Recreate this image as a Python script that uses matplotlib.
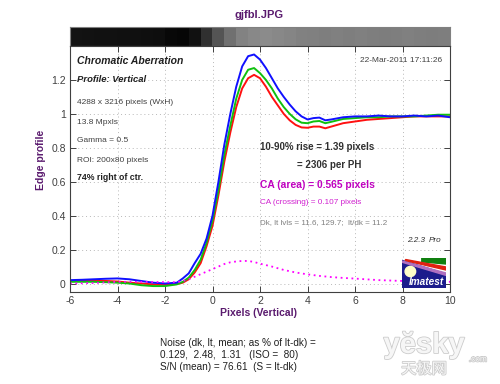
import numpy as np
import matplotlib
matplotlib.use("Agg")
import matplotlib.pyplot as plt
from matplotlib.patches import Rectangle, Polygon, Ellipse
import matplotlib.patheffects as pe

# ---------------- data ----------------
x_px = [-6, -5.5, -5, -4.5, -4, -3.5, -3, -2.5, -2, -1.5, -1.25, -1, -0.75, -0.5, -0.25,
        0, 0.25, 0.5, 0.75, 1, 1.25, 1.5, 1.75, 2, 2.25, 2.5, 2.75, 3, 3.25, 3.5, 3.75,
        4, 4.25, 4.5, 4.75, 5, 5.5, 6, 6.5, 7, 7.5, 8, 8.5, 9, 9.5, 10]

blue = [0.02, 0.022, 0.025, 0.028, 0.03, 0.025, 0.015, 0.005, 0.0, 0.005, 0.03, 0.06, 0.12, 0.175, 0.265,
        0.40, 0.60, 0.82, 1.00, 1.16, 1.28, 1.34, 1.35, 1.32, 1.27, 1.21, 1.15, 1.10, 1.055, 1.015, 0.985,
        0.967, 0.975, 0.978, 0.962, 0.967, 0.98, 0.985, 0.985, 0.99, 0.985, 0.985, 0.99, 0.985, 0.99, 0.98]

green = [0.01, 0.01, 0.01, 0.008, 0.005, 0.0, -0.01, -0.015, -0.015, -0.005, 0.01, 0.035, 0.08, 0.14, 0.24,
         0.37, 0.55, 0.76, 0.93, 1.09, 1.20, 1.26, 1.27, 1.24, 1.20, 1.15, 1.09, 1.04, 1.00, 0.968, 0.948,
         0.945, 0.955, 0.958, 0.945, 0.953, 0.97, 0.975, 0.98, 0.98, 0.985, 0.985, 0.985, 0.99, 0.995, 0.995]

red = [0.015, 0.015, 0.015, 0.015, 0.012, 0.005, 0.0, -0.005, -0.008, -0.003, 0.005, 0.025, 0.065, 0.12, 0.22,
       0.34, 0.52, 0.72, 0.89, 1.04, 1.15, 1.21, 1.23, 1.21, 1.16, 1.10, 1.05, 1.00, 0.962, 0.935, 0.92,
       0.918, 0.925, 0.925, 0.915, 0.925, 0.945, 0.955, 0.965, 0.97, 0.975, 0.98, 0.985, 0.985, 0.985, 0.985]

ca_x = [-6, -5, -4, -3, -2, -1.5, -1.25, -1, -0.75, -0.5, -0.25, 0, 0.25, 0.5, 0.75, 1, 1.25, 1.5,
        1.75, 2, 2.5, 3, 3.5, 4, 4.5, 5, 5.5, 6, 7, 8, 9, 10]
ca_y = [0.0, 0.003, 0.01, 0.01, 0.008, 0.008, 0.015, 0.025, 0.04, 0.055, 0.07, 0.085, 0.10, 0.115, 0.125, 0.13, 0.133, 0.133,
        0.127, 0.117, 0.10, 0.08, 0.065, 0.054, 0.045, 0.038, 0.033, 0.029, 0.02, 0.015, 0.012, 0.01]

# gray levels of the edge image strip (one per 0.5 px column, from -6 to 10)
bar_levels = [0.075, 0.072, 0.07, 0.068, 0.066, 0.064, 0.06, 0.055, 0.035, 0.025, 0.07, 0.19,
              0.33, 0.44, 0.51, 0.535, 0.545, 0.535, 0.52, 0.505, 0.5, 0.495, 0.5, 0.495,
              0.5, 0.495, 0.49, 0.495, 0.5, 0.495, 0.49, 0.495]

x_ticks = [-6, -4, -2, 0, 2, 4, 6, 8, 10]
y_ticks = [0, 0.2, 0.4, 0.6, 0.8, 1, 1.2]
y_ticklabels = ["0", "0.2", "0.4", "0.6", "0.8", "1", "1.2"]

W, H = 500, 384
plt.rcParams['font.family'] = ['Liberation Sans', 'DejaVu Sans']
plt.rcParams['axes.unicode_minus'] = False
fig = plt.figure(figsize=(5, 3.84), dpi=100)

def fx(px):
    return px / W

def fy(py):
    return 1 - py / H

purple = '#5a1a6e'

# ---- edge strip ----
bax = fig.add_axes([fx(70), fy(46), 380 / W, 19 / H])
bax.imshow(np.array([bar_levels]), cmap='gray', vmin=0, vmax=1, aspect='auto',
           extent=[-6, 10, 0, 1], interpolation='nearest')
bax.set_xticks([]); bax.set_yticks([])
for s in bax.spines.values():
    s.set_color('#808080'); s.set_linewidth(0.8)

# ---- main axes ----
ax = fig.add_axes([fx(70), fy(292), 380 / W, 246 / H])
ax.plot(x_px, red, color='#ff1010', lw=1.4)
ax.plot(x_px, green, color='#10c010', lw=1.4)
ax.plot(x_px, blue, color='#1010ff', lw=1.4)
ax.plot(ca_x, ca_y, color='#ff00ff', lw=1.3, linestyle=(0, (1, 2)))
ax.set_xlim(-6, 10)
ax.set_ylim(-0.05, 1.4)
ax.set_xticks(x_ticks)
ax.set_yticks(y_ticks)
ax.set_yticklabels(y_ticklabels)
ax.tick_params(direction='in', length=4, width=0.7, colors='#404040', labelsize=7.5,
               top=True, right=True, pad=3)
ax.grid(True, linestyle=(0, (1, 3)), color='#b8b8b8', lw=0.7)
for s in ax.spines.values():
    s.set_color('#404040'); s.set_linewidth(0.8)

# axis labels
fig.text(fx(259), fy(313), 'Pixels (Vertical)', color=purple, fontsize=7.5, fontweight='bold',
         ha='center', va='center')
fig.text(fx(41), fy(160), 'Edge profile', color=purple, fontsize=7.5, fontweight='bold',
         ha='center', va='center', rotation=90)
fig.text(fx(259), fy(15.5), 'gjfbl.JPG', color=purple, fontsize=8, fontweight='bold',
         ha='center', va='center')

# in-plot text
fig.text(fx(77), fy(61), 'Chromatic Aberration', color='#202020', fontsize=7.5,
         fontweight='bold', fontstyle='italic', va='center')
fig.text(fx(77), fy(79), 'Profile: Vertical', color='#202020', fontsize=6.8,
         fontweight='bold', fontstyle='italic', va='center')
fig.text(fx(77), fy(103), '4288 x 3216 pixels (WxH)', color='#404040', fontsize=6, va='center')
fig.text(fx(77), fy(122), '13.8 Mpxls', color='#404040', fontsize=6, va='center')
fig.text(fx(77), fy(141), 'Gamma = 0.5', color='#404040', fontsize=6, va='center')
fig.text(fx(77), fy(160.5), 'ROI: 200x80 pixels', color='#404040', fontsize=6, va='center')
fig.text(fx(77), fy(177), '74% right of ctr.', color='#202020', fontsize=6.3,
         fontweight='bold', va='center')
fig.text(fx(442), fy(61), '22-Mar-2011 17:11:26', color='#404040', fontsize=6,
         ha='right', va='center')

fig.text(fx(260), fy(147.5), '10-90% rise = 1.39 pixels', color='#303030', fontsize=7,
         fontweight='bold', va='center')
fig.text(fx(297), fy(164.5), '= 2306 per PH', color='#303030', fontsize=7,
         fontweight='bold', va='center')
fig.text(fx(260), fy(185), 'CA (area) = 0.565 pixels', color='#c000c0', fontsize=7.4,
         fontweight='bold', va='center')
fig.text(fx(260), fy(203), 'CA (crossing) = 0.107 pixels', color='#d020d0', fontsize=5.9,
         va='center')
fig.text(fx(260), fy(223), 'Dk, lt lvls = 11.6, 129.7;  lt/dk = 11.2', color='#808080',
         fontsize=5.9, va='center')
fig.text(fx(407), fy(240), '2.2.3', color='#303030', fontsize=5.9, fontstyle='italic', va='center')
fig.text(fx(429), fy(240), 'Pro', color='#303030', fontsize=5.9, fontstyle='italic', va='center')

# Imatest logo
lax = fig.add_axes([fx(402), fy(288), 44 / W, 30 / H])
lax.set_xlim(0, 1); lax.set_ylim(0, 1); lax.axis('off')
lax.add_patch(Rectangle((0, 0), 1, 1, color='#1c1c8c'))
lax.add_patch(Polygon([(0, 1), (1, 1), (1, 0.52), (0, 0.97)], color='white'))
lax.add_patch(Polygon([(0.45, 1), (1, 1), (1, 0.8), (0.45, 0.87)], color='#108010'))
lax.add_patch(Polygon([(0.08, 0.95), (1, 0.7), (1, 0.6), (0.08, 0.91)], color='#e02010'))
lax.add_patch(Polygon([(0.0, 0.9), (1, 0.5), (1, 0.42), (0.0, 0.86)], color='#b070c0'))
lax.add_patch(Ellipse((0.19, 0.55), 0.24, 0.34, color='#ffffc8'))
lax.text(0.56, 0.2, 'Imatest', color='white', fontsize=7.2, fontweight='bold',
         fontstyle='italic', ha='center', va='center')

# noise text
fig.text(fx(160), fy(342.5), 'Noise (dk, lt, mean; as % of lt-dk) =', color='#202020',
         fontsize=7.2, va='center')
fig.text(fx(160), fy(355), '0.129,  2.48,  1.31   (ISO =  80)', color='#202020',
         fontsize=7.2, va='center')
fig.text(fx(160), fy(367.5), 'S/N (mean) = 76.61  (S = lt-dk)', color='#202020',
         fontsize=7.2, va='center')

# watermark
stroke = [pe.withStroke(linewidth=1.2, foreground='#cccccc')]
fig.text(fx(424), fy(345), 'yĕsky', color='#f6f6f6', fontsize=21, fontweight='bold',
         ha='center', va='center', path_effects=stroke)
fig.text(fx(424), fy(369), '天极网', color='#f6f6f6', fontsize=11,
         family=['Noto Sans CJK SC', 'DejaVu Sans'], ha='center', va='center', path_effects=stroke)
fig.text(fx(478), fy(360), '.com', color='#f6f6f6', fontsize=6,
         ha='center', va='center', path_effects=stroke)

fig.savefig('out.png', dpi=100)
